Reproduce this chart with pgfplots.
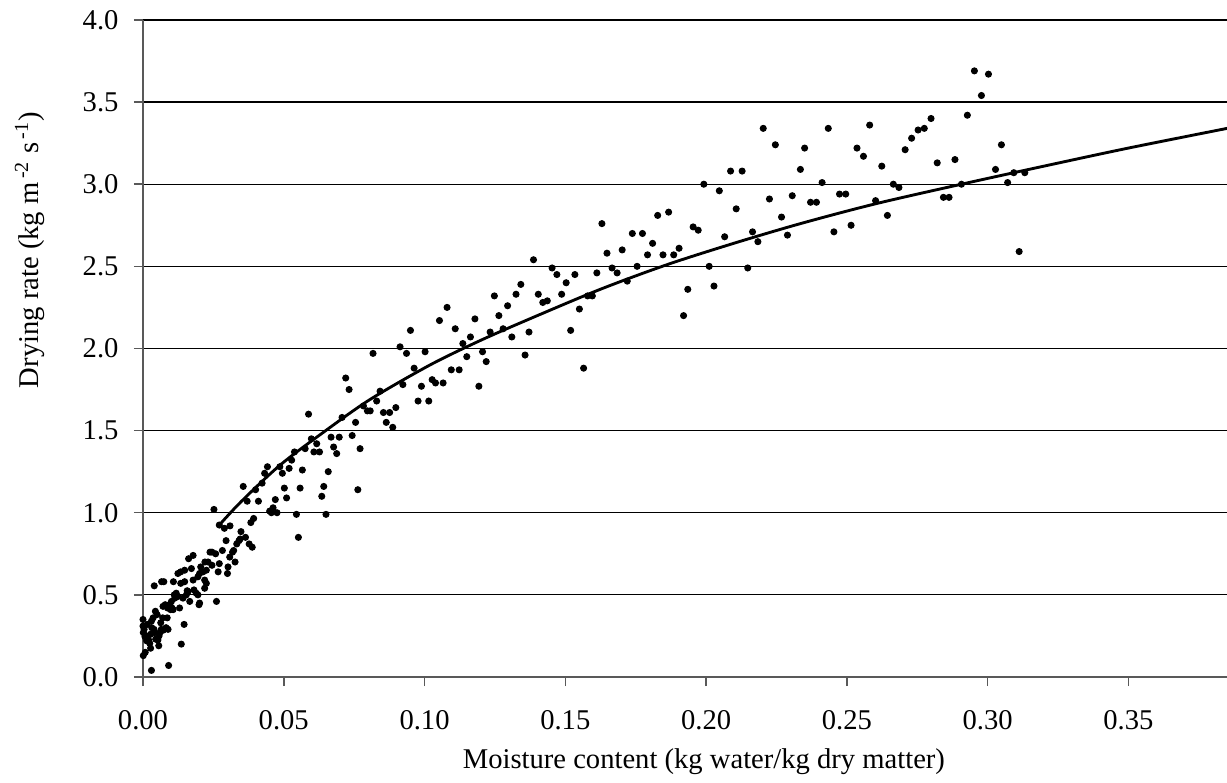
\documentclass[border=0pt]{standalone}
\usepackage{fontspec}
\setmainfont{Liberation Serif}
\usepackage{pgfplots}
\pgfplotsset{compat=1.18}

\pgfplotstableread{
x y
0.0000 0.35
0.0000 0.31
0.0001 0.27
0.0004 0.29
0.0007 0.245
0.0012 0.25
0.0013 0.22
0.0001 0.13
0.0008 0.15
0.0015 0.32
0.0020 0.225
0.0024 0.205
0.0027 0.26
0.0027 0.175
0.0030 0.34
0.0031 0.30
0.0030 0.04
0.0036 0.36
0.0039 0.29
0.0040 0.555
0.0041 0.27
0.0044 0.40
0.0045 0.23
0.0050 0.38
0.0053 0.225
0.0056 0.19
0.0057 0.25
0.0060 0.27
0.0063 0.33
0.0065 0.29
0.0066 0.58
0.0070 0.36
0.0071 0.43
0.0072 0.285
0.0074 0.58
0.0079 0.44
0.0082 0.30
0.0086 0.36
0.0087 0.42
0.0089 0.29
0.0091 0.07
0.0095 0.44
0.0098 0.41
0.0101 0.46
0.0103 0.42
0.0107 0.41
0.0108 0.58
0.0111 0.50
0.0113 0.48
0.0118 0.51
0.0124 0.49
0.0124 0.63
0.0130 0.42
0.0134 0.57
0.0134 0.64
0.0136 0.20
0.0142 0.48
0.0146 0.32
0.0148 0.58
0.0148 0.65
0.0154 0.50
0.0157 0.525
0.0160 0.52
0.0162 0.72
0.0166 0.46
0.0172 0.66
0.0178 0.74
0.0178 0.59
0.0181 0.53
0.0189 0.51
0.0195 0.50
0.0195 0.61
0.0199 0.44
0.0201 0.63
0.0201 0.45
0.0205 0.67
0.0213 0.64
0.0219 0.59
0.0219 0.54
0.0220 0.70
0.0225 0.65
0.0225 0.57
0.0231 0.70
0.0238 0.76
0.0245 0.76
0.0245 0.68
0.0252 1.02
0.0258 0.75
0.0261 0.46
0.0267 0.64
0.0271 0.69
0.0271 0.925
0.0282 0.77
0.0289 0.905
0.0295 0.83
0.0300 0.63
0.0302 0.67
0.0308 0.73
0.0309 0.92
0.0318 0.76
0.0322 0.77
0.0327 0.70
0.0333 0.81
0.0341 0.83
0.0345 0.84
0.0348 0.885
0.0356 1.16
0.0364 0.85
0.0370 1.07
0.0377 0.81
0.0383 0.94
0.0388 0.79
0.0393 0.965
0.0400 1.14
0.0410 1.07
0.0423 1.18
0.0432 1.24
0.0442 1.28
0.0450 1.01
0.0456 1.00
0.0462 1.03
0.0470 1.08
0.0476 1.00
0.0486 1.28
0.0495 1.24
0.0502 1.15
0.0510 1.09
0.0519 1.27
0.0528 1.32
0.0538 1.37
0.0545 0.99
0.0552 0.85
0.0558 1.15
0.0566 1.26
0.0576 1.39
0.0588 1.60
0.0598 1.45
0.0607 1.37
0.0617 1.42
0.0627 1.37
0.0635 1.10
0.0642 1.16
0.0650 0.99
0.0658 1.25
0.0668 1.46
0.0677 1.40
0.0688 1.36
0.0697 1.46
0.0707 1.58
0.0720 1.82
0.0732 1.75
0.0743 1.47
0.0755 1.55
0.0763 1.14
0.0771 1.39
0.0783 1.65
0.0797 1.62
0.0807 1.62
0.0817 1.97
0.0830 1.68
0.0842 1.74
0.0854 1.61
0.0864 1.55
0.0876 1.61
0.0887 1.52
0.0898 1.64
0.0913 2.01
0.0923 1.78
0.0936 1.97
0.0950 2.11
0.0963 1.88
0.0977 1.68
0.0989 1.77
0.1002 1.98
0.1015 1.68
0.1027 1.81
0.1039 1.79
0.1053 2.17
0.1066 1.79
0.1080 2.25
0.1095 1.87
0.1109 2.12
0.1123 1.87
0.1136 2.03
0.1150 1.95
0.1163 2.07
0.1179 2.18
0.1193 1.77
0.1206 1.98
0.1219 1.92
0.1233 2.10
0.1248 2.32
0.1264 2.20
0.1279 2.12
0.1295 2.26
0.1310 2.07
0.1325 2.33
0.1342 2.39
0.1357 1.96
0.1371 2.10
0.1387 2.54
0.1404 2.33
0.1420 2.28
0.1436 2.29
0.1453 2.49
0.1470 2.45
0.1487 2.33
0.1503 2.40
0.1519 2.11
0.1534 2.45
0.1550 2.24
0.1565 1.88
0.1579 2.32
0.1596 2.32
0.1612 2.46
0.1630 2.76
0.1648 2.58
0.1666 2.49
0.1684 2.46
0.1702 2.60
0.1720 2.41
0.1738 2.70
0.1755 2.50
0.1774 2.70
0.1792 2.57
0.1810 2.64
0.1828 2.81
0.1847 2.57
0.1867 2.83
0.1885 2.57
0.1904 2.61
0.1920 2.20
0.1935 2.36
0.1954 2.74
0.1972 2.72
0.1992 3.00
0.2011 2.50
0.2028 2.38
0.2047 2.96
0.2066 2.68
0.2087 3.08
0.2107 2.85
0.2128 3.08
0.2148 2.49
0.2165 2.71
0.2184 2.65
0.2203 3.34
0.2225 2.91
0.2246 3.24
0.2268 2.80
0.2289 2.69
0.2306 2.93
0.2335 3.09
0.2350 3.22
0.2371 2.89
0.2392 2.89
0.2412 3.01
0.2434 3.34
0.2454 2.71
0.2474 2.94
0.2496 2.94
0.2515 2.75
0.2536 3.22
0.2559 3.17
0.2581 3.36
0.2602 2.90
0.2624 3.11
0.2644 2.81
0.2665 3.00
0.2685 2.98
0.2707 3.21
0.2730 3.28
0.2753 3.33
0.2775 3.34
0.2799 3.40
0.2821 3.13
0.2843 2.92
0.2863 2.92
0.2884 3.15
0.2907 3.00
0.2928 3.42
0.2953 3.69
0.2978 3.54
0.3003 3.67
0.3028 3.09
0.3049 3.24
0.3071 3.01
0.3093 3.07
0.3112 2.59
0.3132 3.07
}\measured

\pgfplotstableread{
x y
0.0271 0.925
0.0350 1.07
0.0487 1.29
0.0641 1.49
0.0807 1.69
0.1020 1.90
0.1200 2.05
0.1387 2.19
0.1624 2.36
0.1861 2.51
0.2098 2.64
0.2335 2.76
0.2600 2.88
0.2907 3.00
0.3200 3.11
0.3500 3.22
0.3851 3.34
}\fitted

\begin{document}
\begin{tikzpicture}[font=\fontsize{11}{13.2}\selectfont]
\begin{axis}[
  scale only axis,
  width=416.9pt, height=252.7pt,
  xmin=0, xmax=0.385, ymin=0, ymax=4,
  xtick={0,0.05,0.10,0.15,0.20,0.25,0.30,0.35},
  ytick={0,0.5,1,1.5,2,2.5,3,3.5,4},
  xticklabel style={/pgf/number format/fixed, /pgf/number format/fixed zerofill, /pgf/number format/precision=2, yshift=-5.7pt},
  yticklabel style={/pgf/number format/fixed, /pgf/number format/fixed zerofill, /pgf/number format/precision=1, xshift=-2.4pt},
  /pgf/number format/assume math mode=true,
  axis x line*=bottom, axis y line*=left,
  axis line style={black!65, line width=0.8pt},
  tick align=outside,
  major tick length=3.5pt,
  tick style={black!65, line width=0.6pt},
  ymajorgrids,
  grid style={black, line width=0.45pt},
  every axis x label/.style={at={([yshift=-32.7pt]axis description cs:0.5175,0)}, anchor=center},
  every axis y label/.style={at={([xshift=-43.6pt]axis description cs:0,0.65)}, anchor=center, rotate=90},
  xlabel={Moisture content (kg water/kg dry matter)},
  ylabel={Drying rate (kg m\kern0.12em\textsuperscript{-2} s\kern0.12em\textsuperscript{-1})},
  clip=false,
]
\addplot[only marks, mark=*, mark size=1.15pt, black] table[x=x,y=y] {\measured};
\addplot[smooth, black, line width=1.1pt] table[x=x,y=y] {\fitted};
\coordinate (O) at (rel axis cs:0,0);
\end{axis}
\pgfresetboundingbox
\path[use as bounding box] (O) ++(-55pt,-40.77pt) rectangle ++(471.92pt,301.15pt);
\end{tikzpicture}
\end{document}
